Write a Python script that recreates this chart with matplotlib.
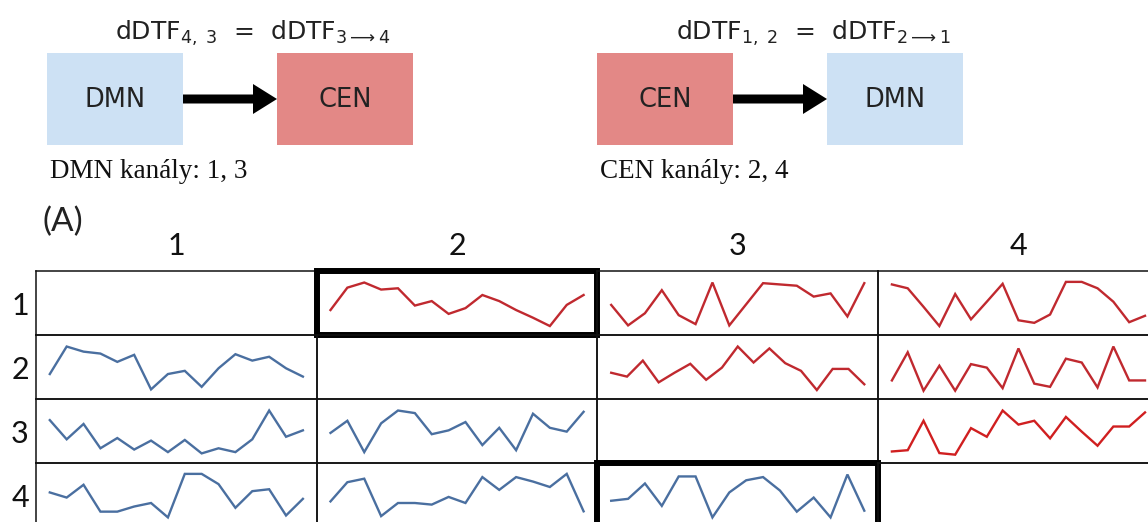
import matplotlib
matplotlib.use("Agg")
import matplotlib.pyplot as plt
from matplotlib.patches import Rectangle, FancyArrow

# ---------------- data ----------------
row_labels = ["1", "2", "3", "4"]
col_labels = ["1", "2", "3", "4"]

# dDTF time courses per cell (row = target, col = source), normalised to the cell
dDTF_1_2 = [0.39, 0.74, 0.82, 0.71, 0.73, 0.46, 0.53, 0.33, 0.42, 0.625, 0.53, 0.39, 0.27, 0.14, 0.47, 0.625]
dDTF_1_3 = [0.47, 0.15, 0.34, 0.70, 0.31, 0.17, 0.82, 0.15, 0.48, 0.81, 0.79, 0.77, 0.60, 0.65, 0.29, 0.81]
dDTF_1_4 = [0.79, 0.73, 0.44, 0.14, 0.64, 0.245, 0.52, 0.80, 0.23, 0.19, 0.32, 0.83, 0.83, 0.73, 0.52, 0.20, 0.30]
dDTF_2_1 = [0.39, 0.82, 0.74, 0.71, 0.58, 0.69, 0.15, 0.39, 0.44, 0.19, 0.48, 0.70, 0.60, 0.66, 0.48, 0.35]
dDTF_2_3 = [0.41, 0.35, 0.60, 0.26, 0.41, 0.55, 0.30, 0.49, 0.82, 0.57, 0.79, 0.56, 0.44, 0.14, 0.47, 0.47, 0.23]
dDTF_2_4 = [0.29, 0.73, 0.13, 0.52, 0.13, 0.545, 0.49, 0.17, 0.79, 0.24, 0.19, 0.63, 0.57, 0.18, 0.82, 0.29, 0.29]
dDTF_3_1 = [0.67, 0.37, 0.61, 0.23, 0.39, 0.21, 0.35, 0.17, 0.36, 0.15, 0.23, 0.17, 0.37, 0.82, 0.41, 0.51]
dDTF_3_2 = [0.47, 0.66, 0.17, 0.62, 0.82, 0.78, 0.45, 0.51, 0.64, 0.28, 0.55, 0.20, 0.77, 0.55, 0.49, 0.80]
dDTF_3_4 = [0.18, 0.20, 0.66, 0.155, 0.13, 0.545, 0.41, 0.82, 0.60, 0.66, 0.385, 0.72, 0.49, 0.27, 0.57, 0.57, 0.79]
dDTF_4_1 = [0.54, 0.46, 0.66, 0.24, 0.24, 0.32, 0.375, 0.15, 0.83, 0.83, 0.67, 0.30, 0.56, 0.59, 0.18, 0.44]
dDTF_4_2 = [0.40, 0.70, 0.755, 0.17, 0.375, 0.375, 0.35, 0.47, 0.375, 0.78, 0.58, 0.78, 0.71, 0.625, 0.83, 0.245]
dDTF_4_3 = [0.41, 0.44, 0.68, 0.33, 0.79, 0.79, 0.15, 0.54, 0.73, 0.78, 0.57, 0.24, 0.46, 0.15, 0.82, 0.255]

cells = {
    (1, 2): dDTF_1_2, (1, 3): dDTF_1_3, (1, 4): dDTF_1_4,
    (2, 1): dDTF_2_1, (2, 3): dDTF_2_3, (2, 4): dDTF_2_4,
    (3, 1): dDTF_3_1, (3, 2): dDTF_3_2, (3, 4): dDTF_3_4,
    (4, 1): dDTF_4_1, (4, 2): dDTF_4_2, (4, 3): dDTF_4_3,
}
highlighted = [(1, 2), (4, 3)]

# ---------------- styling ----------------
W, H = 1148, 522
RED = "#c0292f"
RED2 = "#d01f20"
BLUE = "#4a6fa0"
BOX_BLUE = "#cde1f4"
BOX_RED = "#e38886"
LABEL_FONT = ["Lato", "DejaVu Sans"]

fig = plt.figure(figsize=(W / 100, H / 100), dpi=100)
fig.patch.set_facecolor("white")

bg = fig.add_axes([0, 0, 1, 1], zorder=0)
bg.set_xlim(0, W)
bg.set_ylim(H, 0)
bg.axis("off")


def diagram(x0, left_name, left_col, right_name, right_col, title, title_x, note):
    bw, bh, gap, top = 136, 92, 94, 53
    bg.add_patch(Rectangle((x0, top), bw, bh, facecolor=left_col, edgecolor="none"))
    bg.add_patch(Rectangle((x0 + bw + gap, top), bw, bh, facecolor=right_col, edgecolor="none"))
    bg.text(x0 + bw / 2, top + bh / 2 + 1, left_name, ha="center", va="center",
            fontsize=18.5, family="DejaVu Sans", color="#222222")
    bg.text(x0 + bw + gap + bw / 2, top + bh / 2 + 1, right_name, ha="center", va="center",
            fontsize=18.5, family="DejaVu Sans", color="#222222")
    bg.add_patch(FancyArrow(x0 + bw, top + bh / 2, gap, 0, width=9, head_width=30,
                            head_length=24, length_includes_head=True,
                            color="black", linewidth=0))
    bg.text(title_x, 40, title, ha="left", va="baseline", fontsize=18,
            family="DejaVu Sans", color="#222222")
    bg.text(x0 + 3, 172, note, ha="left", va="center", fontsize=19.5,
            family="Liberation Serif", color="#111111")


plt.rcParams["mathtext.fontset"] = "dejavusans"
diagram(47, "DMN", BOX_BLUE, "CEN", BOX_RED,
        r"dDTF$_{4,\ 3}$  =  dDTF$_{3\longrightarrow 4}$", 115, "DMN kanály: 1, 3")
diagram(597, "CEN", BOX_RED, "DMN", BOX_BLUE,
        r"dDTF$_{1,\ 2}$  =  dDTF$_{2\longrightarrow 1}$", 676, "CEN kanály: 2, 4")

bg.text(43, 222, "(A)", ha="left", va="center", fontsize=24, family=LABEL_FONT, color="#222222")

# ---------------- grid of sparklines ----------------
gx0, gy0, cw, ch = 36.0, 271.0, 280.7, 64.0
pad = 13.8

for i, rl in enumerate(row_labels):
    bg.text(20, gy0 + ch * i + ch / 2 + 3, rl, ha="center", va="center",
            fontsize=22, family=LABEL_FONT, color="#111111")
for j, cl in enumerate(col_labels):
    bg.text(gx0 + cw * j + cw / 2, 246, cl, ha="center", va="center",
            fontsize=22, family=LABEL_FONT, color="#111111")

for i in range(4):
    for j in range(4):
        x = gx0 + cw * j
        y = gy0 + ch * i
        ax = fig.add_axes([x / W, 1 - (y + ch) / H, cw / W, ch / H], zorder=2)
        ax.set_facecolor("none")
        ax.set_xticks([])
        ax.set_yticks([])
        for s in ax.spines.values():
            s.set_linewidth(1.1)
            s.set_color("#111111")
        key = (i + 1, j + 1)
        ax.set_ylim(0, 1)
        if key in cells:
            vals = cells[key]
            n = len(vals)
            m = pad / (cw - 2 * pad) * (n - 1)
            ax.set_xlim(-m, n - 1 + m)
            if i < j:
                col = RED2 if key == (3, 4) else RED
            else:
                col = BLUE
            ax.plot(range(n), vals, color=col, linewidth=1.7, solid_joinstyle="miter")
        else:
            ax.set_xlim(0, 1)
        if key in highlighted:
            ax.add_patch(Rectangle((0, 0), 1, 1, transform=ax.transAxes, fill=False,
                                   edgecolor="black", linewidth=4.3, clip_on=False,
                                   zorder=10))

fig.savefig("out.png", dpi=100, facecolor="white")
